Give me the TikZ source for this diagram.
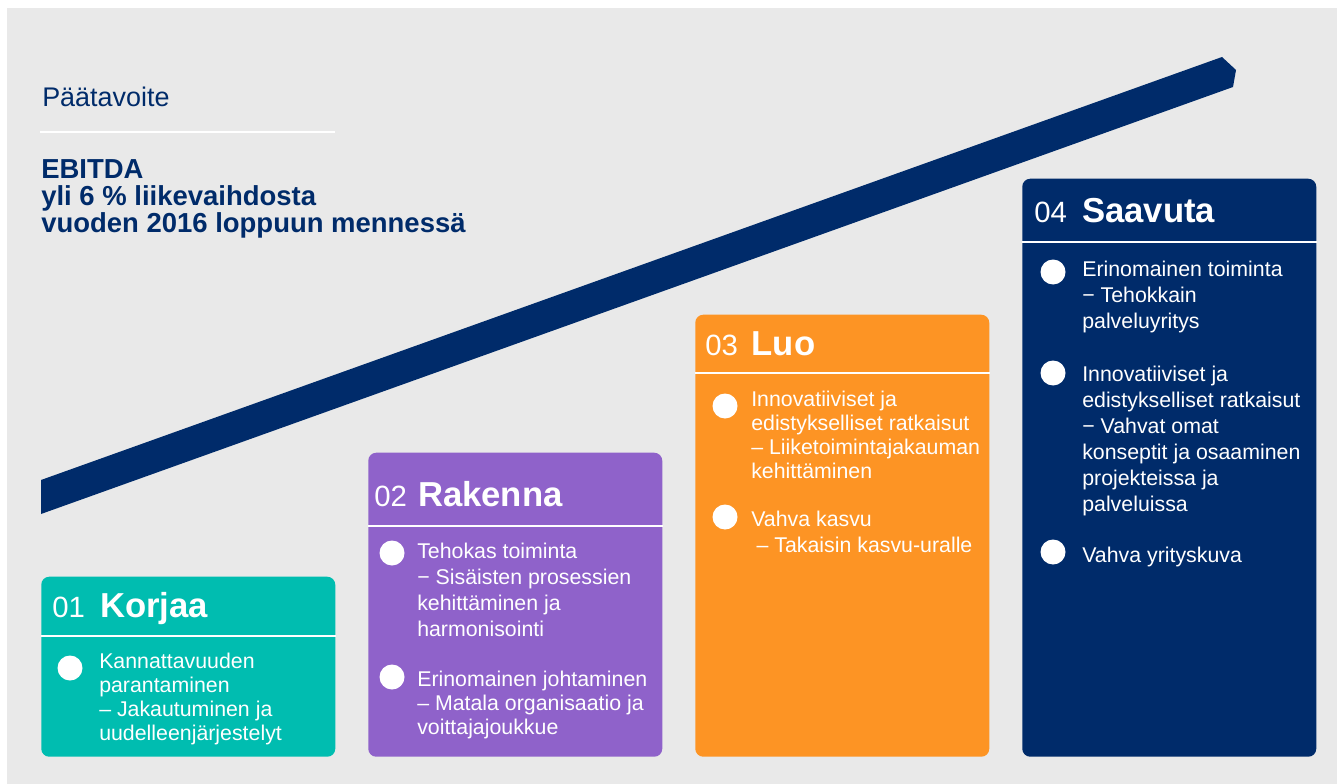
\documentclass[tikz,border=0pt]{standalone}
\usepackage{fontspec}
\setmainfont{Liberation Sans}
\usetikzlibrary{positioning}
\definecolor{bggrey}{HTML}{E9E9E9}
\definecolor{navy}{HTML}{002B6A}
\definecolor{tealbox}{HTML}{00BDB0}
\definecolor{purplebox}{HTML}{8F62CA}
\definecolor{orangebox}{HTML}{FD9424}

\begin{document}
\begin{tikzpicture}[
    x=0.75pt, y=-0.75pt,
    box/.style={rectangle, rounded corners=6pt, minimum width=220.5pt, anchor=south west, inner sep=0pt},
    num/.style={anchor=base west, inner sep=0pt, text=white, font=\fontsize{22}{22}\selectfont},
    ttl/.style={inner sep=0pt, text=white, font=\bfseries\fontsize{26}{26}\selectfont},
    dot/.style={circle, fill=white, minimum size=18.75pt, inner sep=0pt},
    body/.style={anchor=north west, inner sep=0pt, align=left, text=white, font=\fontsize{16}{18}\selectfont},
    wide/.style={font=\fontsize{16}{19.5}\selectfont},
    divider/.style={draw=white, line width=1.1pt}
]
\useasboundingbox (0,0) rectangle (1337,784);
\fill[bggrey] (7,8) rectangle (1337,784);

% Rising band
\fill[navy] (41,480) -- (1222,57) -- (1236,70) -- (1233,87) -- (41,514) -- cycle;

% Main goal
\node[anchor=base west, inner sep=0pt, text=navy, font=\fontsize{20.2}{20.2}\selectfont] (goal) at (42,107) {Päätavoite};
\draw[white, line width=1pt] (40,132) -- (335,132);
\node[anchor=north west, inner sep=0pt, align=left, text=navy, font=\bfseries\fontsize{20.6}{20.5}\selectfont] (target) at (41,159)
    {EBITDA\\yli 6 \% liikevaihdosta\\vuoden 2016 loppuun mennessä};

% Step boxes
\node[box, fill=tealbox, minimum height=135pt] (korjaa) at (41,757) {};
\node[box, fill=purplebox, minimum height=228pt] (rakenna) at (368,757) {};
\node[box, fill=orangebox, minimum height=331.5pt] (luo) at (695,757) {};
\node[box, fill=navy, minimum height=433.5pt] (saavuta) at (1022,757) {};

% Headers
\node[num] (n1) at (52,617) {01};
\node[ttl, base right=11pt of n1] (t1) {Korjaa};
\draw[divider] (korjaa.west |- 0,636) -- (korjaa.east |- 0,636);

\node[num] (n2) at (374,506) {02};
\node[ttl, base right=8pt of n2] (t2) {Rakenna};
\draw[divider] (rakenna.west |- 0,526) -- (rakenna.east |- 0,526);

\node[num] (n3) at (705,355) {03};
\node[ttl, base right=10pt of n3] (t3) {Luo};
\draw[divider] (luo.west |- 0,373) -- (luo.east |- 0,373);

\node[num] (n4) at (1034,223) {04};
\node[ttl, base right=11pt of n4] (t4) {Saavuta};
\draw[divider] (saavuta.west |- 0,242) -- (saavuta.east |- 0,242);

% Bullets 01
\node[dot] (d11) at (70,668) {};
\node[body] (k11) at (99,653) {Kannattavuuden\\parantaminen\\– Jakautuminen ja\\uudelleenjärjestelyt};

% Bullets 02
\node[dot] (d21) at (392,553) {};
\node[body, wide] (k21) at (417,543) {Tehokas toiminta\\− Sisäisten prosessien\\kehittäminen ja\\harmonisointi};
\node[dot] (d22) at (392,677) {};
\node[body] (k22) at (417,671) {Erinomainen johtaminen\\– Matala organisaatio ja\\voittajajoukkue};

% Bullets 03
\node[dot] (d31) at (725,406) {};
\node[body] (k31) at (751,391) {Innovatiiviset ja\\edistykselliset ratkaisut\\– Liiketoimintajakauman\\kehittäminen};
\node[dot] (d32) at (725,517) {};
\node[body, wide] (k32) at (751,511) {Vahva kasvu\\\hspace{4pt}– Takaisin kasvu-uralle};

% Bullets 04
\node[dot] (d41) at (1053,272) {};
\node[body, wide] (k41) at (1082,261) {Erinomainen toiminta\\− Tehokkain\\palveluyritys};
\node[dot] (d42) at (1053,373) {};
\node[body, wide] (k42) at (1082,366) {Innovatiiviset ja\\edistykselliset ratkaisut\\− Vahvat omat\\konseptit ja osaaminen\\projekteissa ja\\palveluissa};
\node[dot] (d43) at (1053,552) {};
\node[body] (k43) at (1082,547) {Vahva yrityskuva};

\end{tikzpicture}
\end{document}
